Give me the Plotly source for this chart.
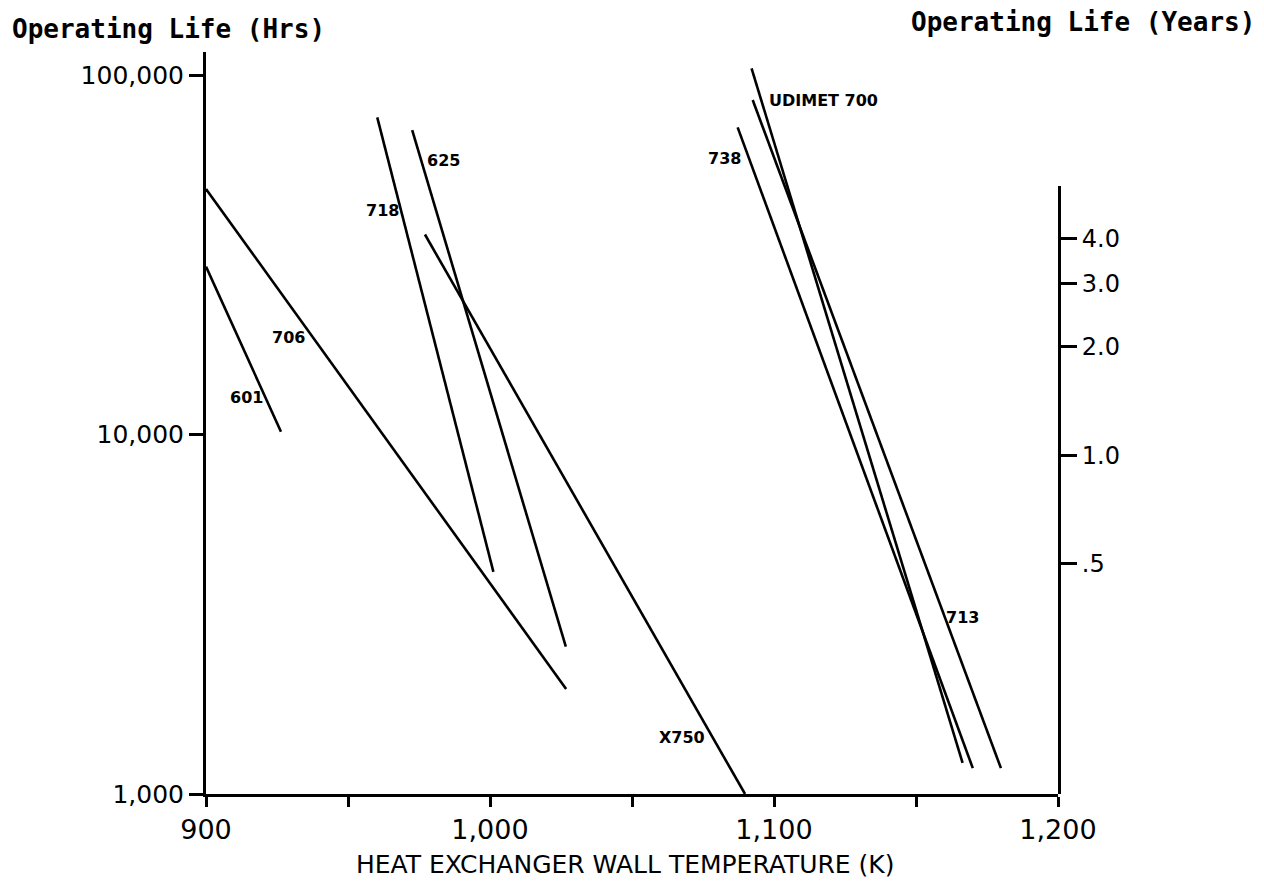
import plotly.graph_objects as go
import math

# ---- data ----
alloys = ["601", "706", "718", "625", "X750", "738", "UDIMET 700", "713"]
temp_start = [900.0, 900.0, 960.3, 972.6, 977.1, 1087.2, 1092.1, 1092.5]   # K
temp_end = [926.4, 1026.8, 1001.2, 1026.7, 1089.8, 1170.0, 1166.4, 1179.9]  # K
life_start = [29300, 48200, 76200, 70300, 36000, 71500, 104400, 85200]    # hrs
life_end = [10180, 1960, 4150, 2570, 1000, 1180, 1220, 1180]              # hrs

# label anchor points (data coordinates)
label_temp = [914.1, 928.9, 962.0, 983.8, 1067.6, 1082.7, 1117.5, 1166.2]
label_life = [12640, 18670, 42120, 58010, 1440, 58760, 84670, 3088]

x_ticks = [900, 950, 1000, 1050, 1100, 1150, 1200]
x_ticktext = ["900", "", "1,000", "", "1,100", "", "1,200"]
y_ticks = [1000, 10000, 100000]
y_ticktext = ["1,000", "10,000", "100,000"]
year_ticks = [0.5, 1.0, 2.0, 3.0, 4.0]
year_ticktext = [".5", "1.0", "2.0", "3.0", "4.0"]
HOURS_PER_YEAR = 8760

fig = go.Figure()
# helper (empty) trace so the years axis subplot exists
fig.add_trace(go.Scatter(x=[None], y=[None], xaxis="x", yaxis="y2",
                         showlegend=False, hoverinfo="skip"))
for name, t0, t1, l0, l1 in zip(alloys, temp_start, temp_end, life_start, life_end):
    fig.add_trace(go.Scatter(x=[t0, t1], y=[l0, l1], mode="lines",
                             line=dict(color="black", width=2.6),
                             name=name, showlegend=False, hoverinfo="skip",
                             cliponaxis=False))

for name, lt, ll in zip(alloys, label_temp, label_life):
    fig.add_annotation(x=lt, y=math.log10(ll), xref="x", yref="y", text=name,
                       showarrow=False,
                       font=dict(family="DejaVu Sans", size=16, color="black", weight="bold"))

W, H = 1264, 885
L, R, T, B = 206, 206, 52, 91
plot_h = H - T - B
decade_px = 359.5
y_top = 3 + plot_h / decade_px

right_top_px = 186
dom_top = (H - B - right_top_px) / plot_h
hrs_log_top = 3 + (H - B - right_top_px) / decade_px
yrs_lo = 3 - math.log10(HOURS_PER_YEAR)
yrs_hi = hrs_log_top - math.log10(HOURS_PER_YEAR)

fig.update_layout(
    width=W, height=H,
    margin=dict(l=L, r=R, t=T, b=B),
    paper_bgcolor="white", plot_bgcolor="rgba(0,0,0,0)",
    xaxis=dict(range=[900, 1200], tickvals=x_ticks, ticktext=x_ticktext,
               showline=True, linecolor="black", linewidth=3, mirror=False,
               ticks="outside", ticklen=10, tickwidth=2.5, tickcolor="black",
               showgrid=False, zeroline=False,
               tickfont=dict(family="DejaVu Sans", size=27, color="black")),
    yaxis=dict(type="log", range=[3, y_top], tickvals=y_ticks, ticktext=y_ticktext,
               showline=True, linecolor="black", linewidth=3,
               ticks="outside", ticklen=14, tickwidth=2.5, tickcolor="black",
               showgrid=False, zeroline=False,
               tickfont=dict(family="DejaVu Sans", size=25, color="black")),
    yaxis2=dict(type="log", range=[yrs_lo, yrs_hi], domain=[0, dom_top],
                anchor="x", side="right",
                tickvals=year_ticks, ticktext=year_ticktext,
                showline=True, linecolor="black", linewidth=3,
                ticks="outside", ticklen=16, tickwidth=2.5, tickcolor="black",
                showgrid=False, zeroline=False,
                tickfont=dict(family="DejaVu Sans", size=24, color="black")),
)

fig.add_annotation(text="Operating Life (Hrs)", xref="paper", yref="paper",
                   x=(10 - L) / (W - L - R), y=(H - B - 29) / plot_h,
                   xanchor="left", yanchor="middle", showarrow=False,
                   font=dict(family="DejaVu Sans Mono", size=26, color="black", weight="bold"))
fig.add_annotation(text="Operating Life (Years)", xref="paper", yref="paper",
                   x=(1257 - L) / (W - L - R), y=(H - B - 22) / plot_h,
                   xanchor="right", yanchor="middle", showarrow=False,
                   font=dict(family="DejaVu Sans Mono", size=26, color="black", weight="bold"))
fig.add_annotation(text="HEAT EXCHANGER WALL TEMPERATURE (K)", xref="paper", yref="paper",
                   x=(625 - L) / (W - L - R), y=(H - B - 864) / plot_h,
                   xanchor="center", yanchor="middle", showarrow=False,
                   font=dict(family="DejaVu Sans", size=25, color="black"))

fig.write_html("out.html", config={"displayModeBar": False},
               post_script="document.body.style.margin='0';document.body.style.overflow='hidden';")
